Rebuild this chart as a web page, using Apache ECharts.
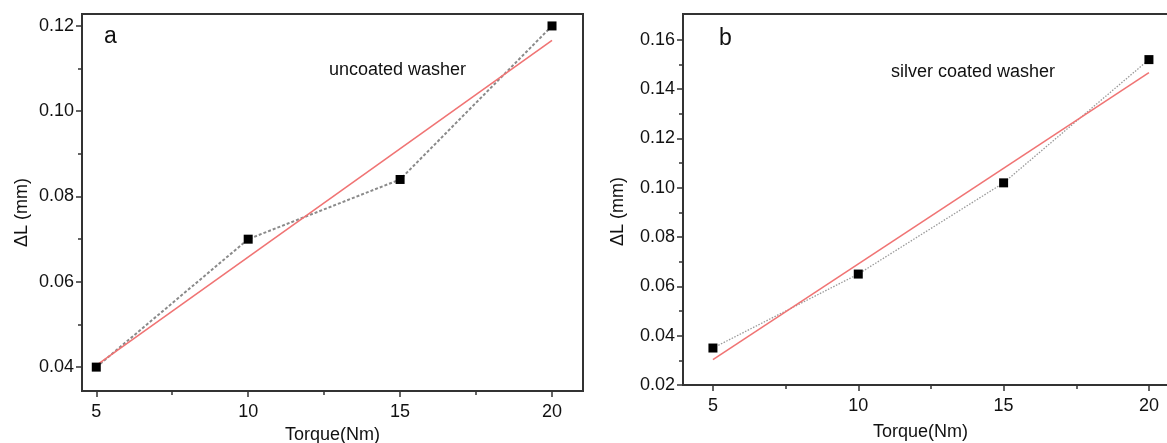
<!DOCTYPE html>
<html>
<head>
<meta charset="utf-8">
<script src="https://cdn.jsdelivr.net/npm/echarts@6/dist/echarts.min.js"></script>
<style>html,body{margin:0;padding:0;background:#fff}#c{width:1167px;height:443px}</style>
</head>
<body>
<div id="c"></div>
<script>
// ---- data ----
const torque = [5, 10, 15, 20];
const dLUncoated = [0.040, 0.070, 0.084, 0.120];
const dLSilver = [0.035, 0.065, 0.102, 0.152];
const fitX = [5, 20];
const fitUncoated = [0.0404, 0.1166];
const fitSilver = [0.0303, 0.1467];
const xMajor = [5, 10, 15, 20];
const xMinor = [7.5, 12.5, 17.5];
const yMajorA = [0.04, 0.06, 0.08, 0.10, 0.12];
const yMinorA = [0.05, 0.07, 0.09, 0.11];
const yMajorB = [0.02, 0.04, 0.06, 0.08, 0.10, 0.12, 0.14, 0.16];
const yMinorB = [0.03, 0.05, 0.07, 0.09, 0.11, 0.13, 0.15];
const xName = 'Torque(Nm)';
const yName = 'ΔL (mm)';
const panelLabels = ['a', 'b'];
const panelNotes = ['uncoated washer', 'silver coated washer'];

const FONT = "'Liberation Sans', Arial, sans-serif";
const AX = '#333';
const pairs = (xs, ys) => xs.map((x, i) => [x, ys[i]]);

function xAxes(grid, min, max, nameGap, nameOpts) {
  return [
    { type: 'value', gridIndex: grid, min, max, position: 'bottom',
      axisLine: { show: true, lineStyle: { color: AX, width: 2 } },
      axisTick: { show: true, inside: false, length: 6, customValues: xMajor, lineStyle: { color: AX, width: 1.5 } },
      axisLabel: { customValues: xMajor, margin: 12, fontSize: 18, fontFamily: FONT, color: '#111' },
      splitLine: { show: false },
      name: xName, nameLocation: 'middle', nameGap: nameGap,
      nameTextStyle: Object.assign({ fontSize: 18, fontFamily: FONT, color: '#111' }, nameOpts) },
    { type: 'value', gridIndex: grid, min, max, position: 'bottom',
      axisLine: { show: false },
      axisTick: { show: true, inside: false, length: 4, customValues: xMinor, lineStyle: { color: AX, width: 1.5 } },
      axisLabel: { show: false }, splitLine: { show: false } }
  ];
}
function yAxes(grid, min, max, major, minor, nameGap, nameOpts) {
  return [
    { type: 'value', gridIndex: grid, min, max, position: 'left',
      axisLine: { show: true, lineStyle: { color: AX, width: 2 } },
      axisTick: { show: true, inside: false, length: 6, customValues: major, lineStyle: { color: AX, width: 1.5 } },
      axisLabel: { customValues: major, margin: 8, fontSize: 18, fontFamily: FONT, color: '#111',
        formatter: v => v.toFixed(2) },
      splitLine: { show: false },
      name: yName, nameLocation: 'middle', nameGap: nameGap,
      nameTextStyle: Object.assign({ fontSize: 18, fontFamily: FONT, color: '#111' }, nameOpts) },
    { type: 'value', gridIndex: grid, min, max, position: 'left',
      axisLine: { show: false },
      axisTick: { show: true, inside: false, length: 4, customValues: minor, lineStyle: { color: AX, width: 1.5 } },
      axisLabel: { show: false }, splitLine: { show: false } }
  ];
}

const chart = echarts.init(document.getElementById('c'), null, { renderer: 'canvas' });
chart.setOption({
  backgroundColor: '#fff',
  animation: false,
  grid: [
    { left: 82, top: 14, width: 501, height: 377, show: true, borderColor: AX, borderWidth: 2,
      outerBoundsMode: 'none', containLabel: false },
    { left: 683, top: 14, width: 495, height: 371, show: true, borderColor: AX, borderWidth: 2,
      outerBoundsMode: 'none', containLabel: false }
  ],
  xAxis: [
    ...xAxes(0, 4.53, 21.02, 32, {}),
    ...xAxes(1, 3.97, 21.0, 38, { padding: [0, 20, 0, 0] })
  ],
  yAxis: [
    ...yAxes(0, 0.0344, 0.1228, yMajorA, yMinorA, 51, { padding: [0, 20, 0, 0] }),
    ...yAxes(1, 0.02, 0.1705, yMajorB, yMinorB, 56, { padding: [0, 24, 0, 0] })
  ],
  graphic: [
    { type: 'text', x: 104, y: 37, style: { text: panelLabels[0], font: '23px ' + FONT, fill: '#111', verticalAlign: 'middle' } },
    { type: 'text', x: 329, y: 70, style: { text: panelNotes[0], font: '18px ' + FONT, fill: '#111', verticalAlign: 'middle' } },
    { type: 'text', x: 719, y: 39, style: { text: panelLabels[1], font: '23px ' + FONT, fill: '#111', verticalAlign: 'middle' } },
    { type: 'text', x: 891, y: 72, style: { text: panelNotes[1], font: '18px ' + FONT, fill: '#111', verticalAlign: 'middle' } }
  ],
  series: [
    { type: 'line', xAxisIndex: 0, yAxisIndex: 0, data: pairs(torque, dLUncoated), symbol: 'none',
      lineStyle: { color: '#8a8a8a', width: 2, type: [3, 2] }, z: 2 },
    { type: 'line', xAxisIndex: 0, yAxisIndex: 0, data: pairs(fitX, fitUncoated), symbol: 'none',
      lineStyle: { color: '#f07474', width: 1.6 }, z: 3 },
    { type: 'scatter', xAxisIndex: 0, yAxisIndex: 0, data: pairs(torque, dLUncoated), symbol: 'rect', symbolSize: 9,
      itemStyle: { color: '#000', opacity: 1 }, z: 4 },
    { type: 'line', xAxisIndex: 2, yAxisIndex: 2, data: pairs(torque, dLSilver), symbol: 'none',
      lineStyle: { color: '#9a9a9a', width: 1.3, type: [1.5, 1.5] }, z: 2 },
    { type: 'line', xAxisIndex: 2, yAxisIndex: 2, data: pairs(fitX, fitSilver), symbol: 'none',
      lineStyle: { color: '#f07474', width: 1.6 }, z: 3 },
    { type: 'scatter', xAxisIndex: 2, yAxisIndex: 2, data: pairs(torque, dLSilver), symbol: 'rect', symbolSize: 9,
      itemStyle: { color: '#000', opacity: 1 }, z: 4 }
  ]
});
</script>
</body>
</html>
